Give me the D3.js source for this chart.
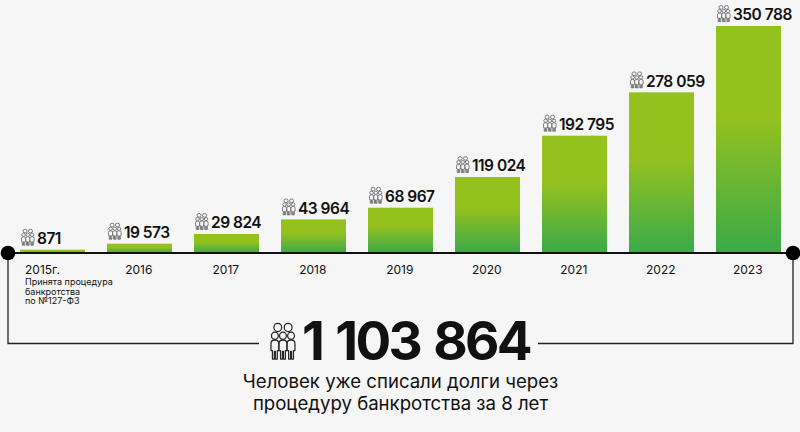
<!DOCTYPE html>
<html><head><meta charset="utf-8">
<script src="https://cdn.jsdelivr.net/npm/d3@7"></script>
<style>
html,body{margin:0;padding:0;background:#f6f6f6}
svg{display:block}
text{font-family:"Inter","Noto Sans",sans-serif;fill:#111}
</style></head><body>
<svg id="c" width="800" height="432"></svg>
<script>
const categories=["2015г.","2016","2017","2018","2019","2020","2021","2022","2023"];
const valueLabels=["871","19 573","29 824","43 964","68 967","119 024","192 795","278 059","350 788"];
// Bar lengths as drawn in the picture (they are not strictly proportional to the labels)
const barValues=[5100,14400,29400,52000,70000,117400,181300,248300,350788];
const noteLines=["Принята процедура","банкротства","по №127-ФЗ"];
const totalLabel="1 103 864";
const captionLines=["Человек уже списали долги через","процедуру банкротства за 8 лет"];

const svg=d3.select("#c");
const x=d3.scaleBand().domain(categories).range([20,781]).paddingInner(0.2529).paddingOuter(0);
const y=d3.scaleLinear().domain([0,350788]).range([253,26]);

const defs=svg.append("defs");
const g=defs.append("linearGradient").attr("id","barGrad").attr("x1",0).attr("y1",0).attr("x2",0).attr("y2",1);
g.append("stop").attr("offset","0.4").attr("stop-color","#95c11f");
g.append("stop").attr("offset","1").attr("stop-color","#3aaa49");

const person=defs.append("g").attr("id","people").attr("fill","none").attr("stroke-linejoin","round");
[[4.8,2.6],[11.2,2.6]].forEach(p=>person.append("circle").attr("cx",p[0]).attr("cy",p[1]).attr("r",2.4));
[[3,0],[8,0],[13,0]].forEach(p=>{
  const c=p[0];
  person.append("path").attr("fill","#f6f6f6")
    .attr("d",`M${c-2.4} 16V12q0-2 2-2h.8q2 0 2 2V16h-.9V21h-1.2V16.5h-.6V21h-1.2V16z`);
  person.append("circle").attr("cx",c).attr("cy",7.4).attr("r",2.1).attr("fill","#f6f6f6");
});

svg.append("g").selectAll("rect").data(categories).join("rect")
  .attr("x",d=>x(d)).attr("width",x.bandwidth())
  .attr("y",(d,i)=>y(barValues[i])).attr("height",(d,i)=>y(0)-y(barValues[i]))
  .attr("fill","url(#barGrad)");

// bracket
const L=8,R=793,B=343.5;
svg.append("path").attr("fill","none").attr("stroke","#222").attr("stroke-width",1.3)
  .attr("d",`M${L} 253V${B}H259M538 ${B}H${R}V253`);
svg.append("line").attr("x1",L).attr("x2",R).attr("y1",253).attr("y2",253).attr("stroke","#111").attr("stroke-width",2.2);
[L,R].forEach(cx=>svg.append("circle").attr("cx",cx).attr("cy",253).attr("r",7.3).attr("fill","#000"));

// value labels
const lab=svg.append("g").selectAll("g").data(categories).join("g")
  .attr("transform",(d,i)=>`translate(${x(d)},${y(barValues[i])-5.8})`);
lab.append("text").text((d,i)=>valueLabels[i]).attr("x",17)
  .attr("font-size",15.5).attr("font-weight",600).attr("letter-spacing",-0.5);
lab.append("use").attr("href","#people").attr("stroke","#555").attr("stroke-width",0.9)
  .attr("transform","translate(1,-14.8) scale(0.85,0.77)");

// axis
svg.append("g").selectAll("text").data(categories).join("text")
  .text(d=>d).attr("x",(d,i)=>i==0?25:x(d)+x.bandwidth()/2-0.7).attr("y",274.3)
  .attr("text-anchor",(d,i)=>i==0?"start":"middle").attr("font-size",12).attr("fill","#222");
svg.append("g").selectAll("text").data(noteLines).join("text").text(d=>d)
  .attr("x",25).attr("y",(d,i)=>285+i*9.6).attr("font-size",9).attr("fill","#222");

// total
svg.append("text").text(totalLabel).attr("x",302).attr("y",359.5)
  .attr("font-size",53).attr("font-weight",700).attr("letter-spacing",-2.6).attr("word-spacing",3);
svg.append("use").attr("href","#people").attr("stroke","#222").attr("stroke-width",0.75)
  .attr("transform","translate(270,323) scale(1.62,1.72)");
svg.append("g").selectAll("text").data(captionLines).join("text").text(d=>d)
  .attr("x",400.5).attr("y",(d,i)=>388+i*22).attr("text-anchor","middle").attr("font-size",18.6).attr("fill","#222");
</script></body></html>
